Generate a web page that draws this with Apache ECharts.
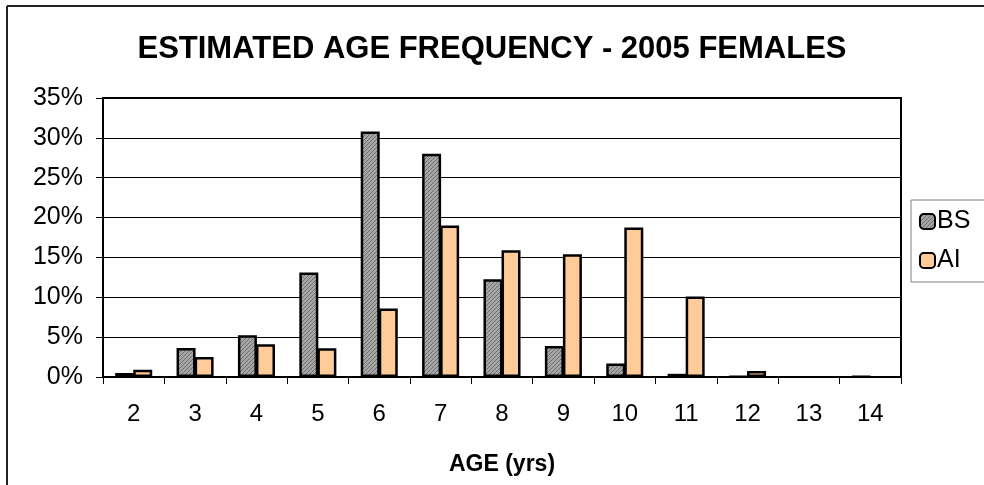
<!DOCTYPE html>
<html>
<head>
<meta charset="utf-8">
<script src="https://cdn.jsdelivr.net/npm/echarts@6/dist/echarts.min.js"></script>
<style>html,body{margin:0;padding:0;background:#fff}#c{width:984px;height:485px}</style>
</head>
<body>
<div id="c"></div>
<script>
var categories = ['2','3','4','5','6','7','8','9','10','11','12','13','14'];
var bsValues = [0.5, 3.65, 5.25, 13.1, 30.8, 28.0, 12.25, 3.9, 1.7, 0.4, 0.05, null, 0.05];
var aiValues = [0.9, 2.5, 4.1, 3.6, 8.6, 19.0, 15.9, 15.4, 18.75, 10.1, 0.75, null, null];
var yTicks = [0, 5, 10, 15, 20, 25, 30, 35];

var pc = document.createElement('canvas');
pc.width = 4; pc.height = 4;
var g = pc.getContext('2d');
g.fillStyle = '#a6a6a6'; g.fillRect(0,0,4,4);
g.fillStyle = '#6e6e6e';
for (var i = 0; i < 4; i++) { g.fillRect(i, 3 - i, 1, 1); }

var FONT = '"Liberation Sans", Arial, sans-serif';
var chart = echarts.init(document.getElementById('c'), null, {renderer: 'canvas'});
chart.setOption({
  backgroundColor: '#fff',
  animation: false,
  title: {
    text: 'ESTIMATED AGE FREQUENCY - 2005 FEMALES',
    left: 'center',
    top: 29,
    textStyle: {fontFamily: FONT, fontSize: 31, fontWeight: 'bold', color: '#000'}
  },
  legend: {
    orient: 'vertical',
    left: 911,
    top: 200,
    padding: [9, 40, 9, 8],
    itemGap: 14,
    itemWidth: 15,
    itemHeight: 15,
    borderColor: '#808080',
    borderWidth: 1,
    backgroundColor: '#fff',
    textStyle: {fontFamily: FONT, fontSize: 25, color: '#000', padding: [0,0,0,-3]},
    data: ['BS', 'AI']
  },
  grid: {left: 103, top: 98, width: 798, height: 279, show: true, borderColor: '#000', borderWidth: 2, backgroundColor: 'transparent'},
  xAxis: {
    type: 'category',
    data: categories,
    axisLine: {lineStyle: {color: '#000', width: 2}},
    axisTick: {show: true, length: 7, lineStyle: {color: '#000', width: 1}},
    axisLabel: {fontFamily: FONT, fontSize: 24, color: '#000', margin: 25},
    name: 'AGE (yrs)',
    nameLocation: 'middle',
    nameGap: 76,
    nameTextStyle: {fontFamily: FONT, fontSize: 23, fontWeight: 'bold', color: '#000'}
  },
  yAxis: {
    type: 'value',
    min: 0,
    max: 35,
    interval: 5,
    axisLine: {show: true, lineStyle: {color: '#000', width: 2}},
    axisTick: {show: true, length: 7, lineStyle: {color: '#000', width: 1}},
    axisLabel: {fontFamily: FONT, fontSize: 25, color: '#000', margin: 20, formatter: function(v){ return yTicks.indexOf(v) >= 0 ? v + '%' : ''; }},
    splitLine: {show: true, lineStyle: {color: '#000', width: 1}}
  },
  series: [
    {name: 'BS', type: 'bar', data: bsValues, barWidth: 19, barGap: '-5%',
     itemStyle: {color: {image: pc, repeat: 'repeat'}, borderColor: '#000', borderWidth: 2.5}},
    {name: 'AI', type: 'bar', data: aiValues, barWidth: 19, barGap: '-5%',
     itemStyle: {color: '#FFCC99', borderColor: '#000', borderWidth: 2.5}}
  ],
  graphic: [
    {type: 'line', shape: {x1: 7, y1: 6, x2: 984, y2: 6}, style: {stroke: '#222', lineWidth: 2}, z: 100},
    {type: 'line', shape: {x1: 7, y1: 6, x2: 7, y2: 485}, style: {stroke: '#222', lineWidth: 2}, z: 100}
  ]
});
</script>
</body>
</html>
